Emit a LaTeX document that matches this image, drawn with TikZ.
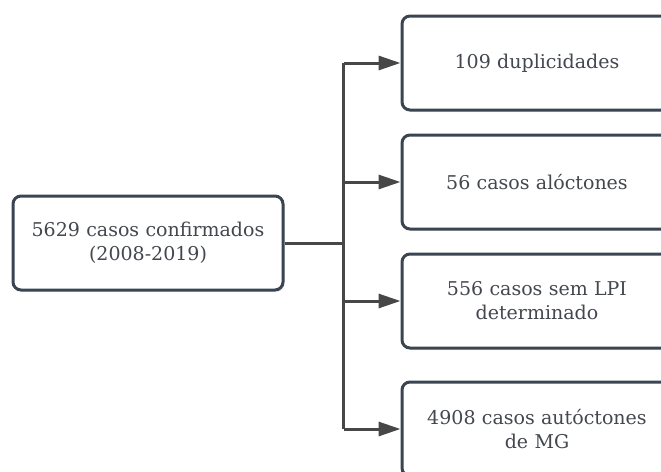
\documentclass[tikz,border=0pt]{standalone}
\usepackage{fontspec}
\setmainfont{DejaVu Serif}
\usetikzlibrary{arrows.meta,positioning,shadows}

\definecolor{boxline}{HTML}{3B4552}
\definecolor{conline}{HTML}{474747}
\definecolor{boxtext}{HTML}{43474E}

\begin{document}
\begin{tikzpicture}[x=1pt, y=-1pt]

% Define styles
\tikzstyle{box} = [rectangle, rounded corners=8pt, draw=boxline, line width=3pt, fill=white,
  text=boxtext, text width=255pt, align=center, minimum width=270pt, minimum height=94pt,
  font=\fontsize{19}{24}\selectfont,
  drop shadow={opacity=0.12, shadow xshift=1.5pt, shadow yshift=-2pt}]
\tikzstyle{line} = [conline, line width=3pt]
\tikzstyle{arrow} = [line, -{Triangle[length=22pt, width=14pt]}]

\useasboundingbox (0,0) rectangle (661,471);

% Nodes
\node [box] (confirmed) at (148,243) {5629 casos confirmados\\(2008-2019)};
\node [box] (dup) at (537,63) {109 duplicidades};
\node [box, below=22pt of dup] (alloc) {56 casos alóctones};
\node [box, below=22pt of alloc] (nolpi) {556 casos sem LPI\\determinado};
\node [box, below=31pt of nolpi] (autoc) {4908 casos autóctones\\de MG};

% Arrows
\coordinate [right=59pt of confirmed.east] (split);
\draw [line] (confirmed.east) -- (split);
\draw [line] (split |- dup.west) -- (split |- autoc.west);
\foreach \n in {dup, alloc, nolpi, autoc}
  \draw [arrow] (split |- \n.west) -- (\n.west);

\end{tikzpicture}
\end{document}
